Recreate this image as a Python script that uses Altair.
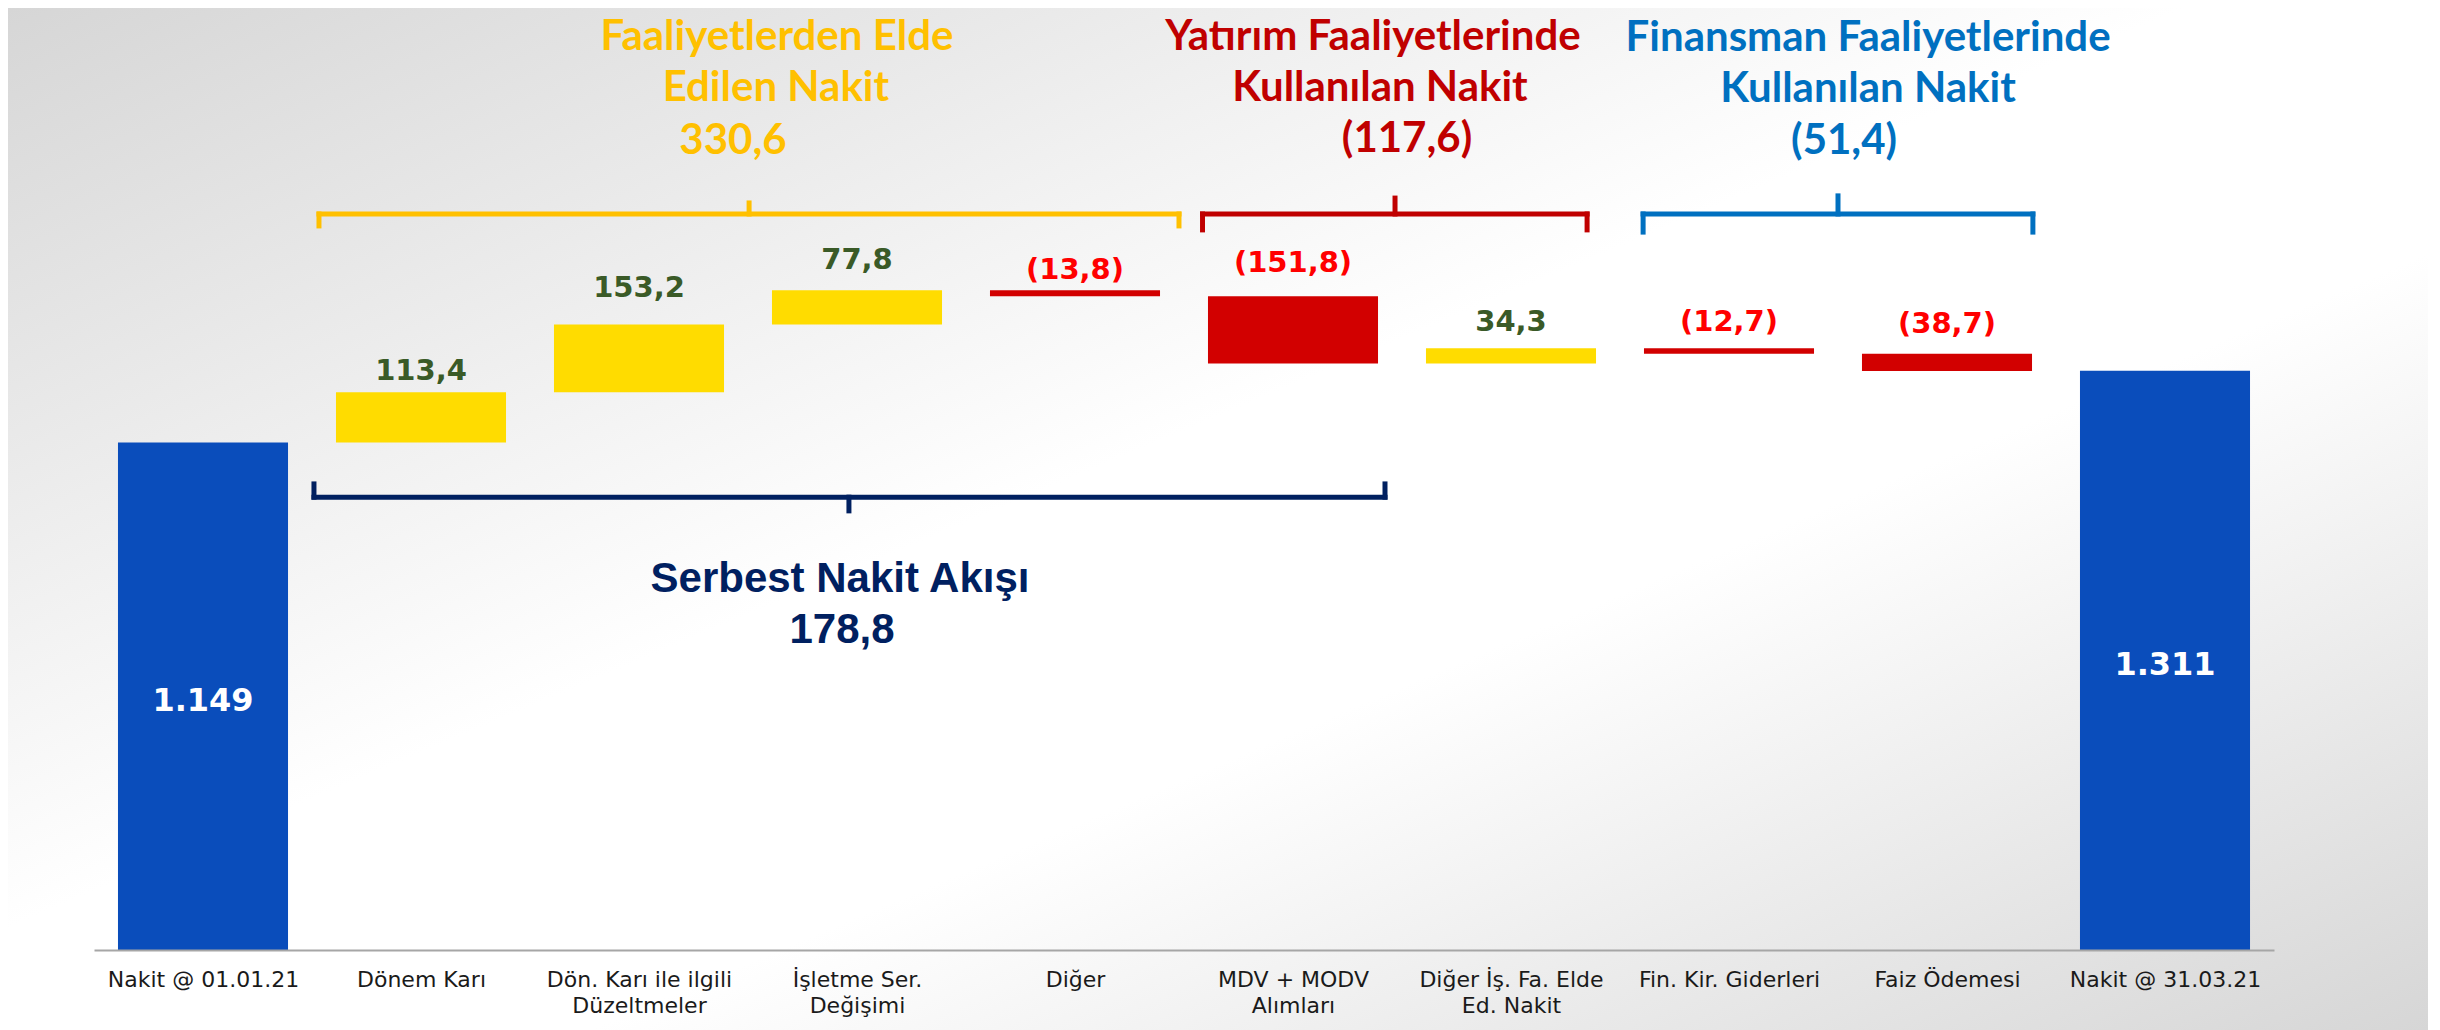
import json
import altair as alt
import pandas as pd

# ---------------- data ----------------
categories = ["Nakit @ 01.01.21", "Dönem Karı", "Dön. Karı ile ilgili|Düzeltmeler",
              "İşletme Ser.|Değişimi", "Diğer", "MDV + MODV|Alımları",
              "Diğer İş. Fa. Elde|Ed. Nakit", "Fin. Kir. Giderleri", "Faiz Ödemesi",
              "Nakit @ 31.03.21"]
values = [1149, 113.4, 153.2, 77.8, -13.8, -151.8, 34.3, -12.7, -38.7, 1311]
value_text = ["1.149", "113,4", "153,2", "77,8", "(13,8)", "(151,8)", "34,3",
              "(12,7)", "(38,7)", "1.311"]
kinds = ["total", "up", "up", "up", "down", "down", "up", "down", "down", "total"]

group_titles = [
    ["Faaliyetlerden Elde", "Edilen Nakit", "330,6"],
    ["Yatırım Faaliyetlerinde", "Kullanılan Nakit", "(117,6)"],
    ["Finansman Faaliyetlerinde", "Kullanılan Nakit", "(51,4)"],
]
fcf_title = ["Serbest Nakit Akışı", "178,8"]

# ---------------- layout / style ----------------
W, H = 2180, 941
PAD = {"left": 86, "top": 1, "right": 154, "bottom": 80}
XMIN, XMAX = -0.5, 9.5
YMAX = 2130
BAR_HALF = 0.39
Y_PER_PX = YMAX / H
label_lift_px = [0, 12, 28, 21, 11, 24, 17, 17, 21, 0]
title_colors = ["#FFC000", "#C00000", "#0070C0"]
title_pos = [
    [(2.633, 2037.2), (2.628, 1921.8), (2.431, 1801.8)],
    [(5.367, 2037.2), (5.399, 1921.8), (5.523, 1806.4)],
    [(7.638, 2035.0), (7.638, 1919.5), (7.528, 1801.8)],
]
fcf_pos = [(2.922, 810.4), (2.931, 695.0)]
brackets = [  # x start, x end, x tick, y line, y ends, y tick, colour
    (0.532, 4.477, 2.505, 1666, 1639, 1691, "#FFC000"),
    (4.585, 6.349, 5.468, 1666, 1630, 1702, "#C00000"),
    (6.606, 8.394, 7.500, 1666, 1625, 1707, "#0070C0"),
    (0.509, 5.422, 2.963, 1025, 1055, 994, "#002060"),
]
kind_colors = {"total": "#0A4DBB", "up": "#FFDC00", "down": "#D20000"}
label_colors = {"total": "#FFFFFF", "up": "#3A5A27", "down": "#FF0000"}

# ---------------- waterfall table ----------------
rows = []
cum = 0.0
for i, (c, v, t, k) in enumerate(zip(categories, values, value_text, kinds)):
    if k == "total":
        start, end = 0.0, float(v)
    else:
        start, end = cum, cum + v
    cum = end
    top = max(start, end)
    if k == "total":
        ly = end / 2
    else:
        ly = top + label_lift_px[i] * Y_PER_PX
    rows.append({"idx": i, "x0": i - BAR_HALF, "x1": i + BAR_HALF, "start": start,
                 "end": end, "kind": k, "label": t, "ly": ly,
                 "lcolor": label_colors[k]})
wf = pd.DataFrame(rows)

xscale = alt.Scale(domain=[XMIN, XMAX], nice=False, zero=False)
yscale = alt.Scale(domain=[0, YMAX], nice=False, zero=False)
label_expr = "split(" + json.dumps(categories, ensure_ascii=False) + "[datum.value], '|')"
xaxis = alt.Axis(values=list(range(len(categories))), labelExpr=label_expr, ticks=False,
                 tickSize=0, grid=False, domainColor="#A6A6A6", domainWidth=2,
                 labelFont="DejaVu Sans", labelFontSize=22, labelColor="#1A1A1A",
                 labelPadding=19, labelLineHeight=26, title=None, labelAngle=0,
                 labelOverlap=False, labelFlush=False, labelBound=False,
                 labelLimit=1000, zindex=1)

# background
bg = alt.Chart(pd.DataFrame({"a": [0]})).mark_rect(
    color=alt.LinearGradient(
        gradient="linear", x1=0, y1=0, x2=1, y2=1,
        stops=[alt.GradientStop(color="#D6D6D6", offset=0),
               alt.GradientStop(color="#FFFFFF", offset=0.45),
               alt.GradientStop(color="#FFFFFF", offset=0.62),
               alt.GradientStop(color="#D6D6D6", offset=1)])
).encode(x=alt.value(-PAD["left"]), x2=alt.value(W + PAD["right"]),
         y=alt.value(-PAD["top"]), y2=alt.value(H + PAD["bottom"]))

bars = alt.Chart(wf).mark_rect().encode(
    x=alt.X("x0:Q", scale=xscale, axis=xaxis),
    x2="x1",
    y=alt.Y("start:Q", scale=yscale, axis=None),
    y2="end",
    color=alt.Color("kind:N", scale=alt.Scale(domain=list(kind_colors),
                                              range=list(kind_colors.values())),
                    legend=None),
)

vlabels_out = alt.Chart(wf[wf.kind != "total"]).mark_text(
    font="DejaVu Sans", fontWeight="bold", fontSize=29, baseline="alphabetic",
    align="center").encode(
    x=alt.X("idx:Q", scale=xscale, axis=xaxis),
    y=alt.Y("ly:Q", scale=yscale, axis=None),
    text="label:N",
    color=alt.Color("lcolor:N", scale=None),
)
vlabels_in = alt.Chart(wf[wf.kind == "total"]).mark_text(
    font="DejaVu Sans", fontWeight="bold", fontSize=32, baseline="middle",
    align="center", dy=5).encode(
    x=alt.X("idx:Q", scale=xscale, axis=xaxis),
    y=alt.Y("ly:Q", scale=yscale, axis=None),
    text="label:N",
    color=alt.Color("lcolor:N", scale=None),
)

# brackets
seg = []
for xs, xe, xt, yl, ye, yt, col in brackets:
    seg.append({"x": xs, "x2": xe, "y": yl, "y2": yl, "c": col})
    seg.append({"x": xs, "x2": xs, "y": yl, "y2": ye, "c": col})
    seg.append({"x": xe, "x2": xe, "y": yl, "y2": ye, "c": col})
    seg.append({"x": xt, "x2": xt, "y": yl, "y2": yt, "c": col})
segdf = pd.DataFrame(seg)
rules = alt.Chart(segdf).mark_rule(strokeWidth=5, strokeCap="square").encode(
    x=alt.X("x:Q", scale=xscale, axis=xaxis), x2="x2",
    y=alt.Y("y:Q", scale=yscale, axis=None), y2="y2",
    color=alt.Color("c:N", scale=None),
)

# group titles
trows = []
for lines, poss, col in zip(group_titles, title_pos, title_colors):
    for t, (x, y) in zip(lines, poss):
        trows.append({"t": t, "x": x, "y": y, "c": col})
tdf = pd.DataFrame(trows)
titles = alt.Chart(tdf).mark_text(font="Lato", fontWeight="bold", fontSize=42,
                                  baseline="alphabetic", align="center").encode(
    x=alt.X("x:Q", scale=xscale, axis=xaxis),
    y=alt.Y("y:Q", scale=yscale, axis=None),
    text="t:N",
    color=alt.Color("c:N", scale=None),
)

fdf = pd.DataFrame([{"t": t, "x": x, "y": y} for t, (x, y) in zip(fcf_title, fcf_pos)])
fcf = alt.Chart(fdf).mark_text(font="Liberation Sans", fontWeight="bold", fontSize=42,
                               baseline="alphabetic", align="center",
                               color="#002060").encode(
    x=alt.X("x:Q", scale=xscale, axis=xaxis),
    y=alt.Y("y:Q", scale=yscale, axis=None),
    text="t:N",
)

chart = alt.layer(bg, bars, rules, vlabels_out, vlabels_in, titles, fcf).properties(
    width=W, height=H, padding=PAD, autosize=alt.AutoSizeParams(type="none"),
    background="#FFFFFF",
).configure_view(stroke=None)

chart.save("out.html", embed_options={"renderer": "svg", "actions": False})
